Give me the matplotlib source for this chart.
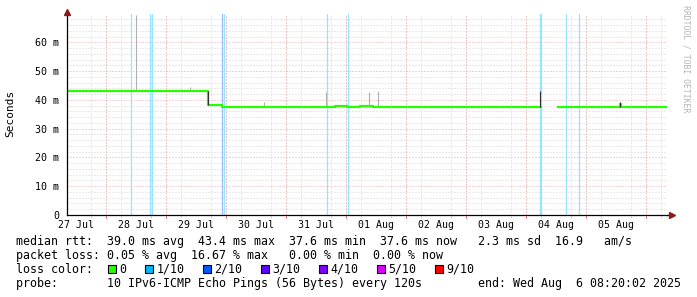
import matplotlib
matplotlib.use('Agg')
import matplotlib.pyplot as plt
import matplotlib.dates as mdates
import numpy as np
import pandas as pd
from matplotlib.patches import Rectangle
from matplotlib.colors import to_rgb

# ---------------- data ----------------
start_time = '2025-07-27 08:20:02'
span_hours = 240

# median rtt (ms), step series, hours since start (NaN = no data)
median_hours = [0.0, 56.4, 62.0, 107.2, 111.8, 117.2, 122.4, 189.6, 196.4, 221.0, 221.6, 239.4]
median_ms = [43.2, 38.3, 37.6, 38.0, 37.6, 37.8, 37.6, np.nan, 37.6, 38.6, 37.6, 37.6]

# dark vertical transitions of the median
jump_hours = [56.4, 189.4, 221.2]
jump_low = [38.3, 37.6, 37.6]
jump_high = [43.2, 43.0, 39.4]

# smoke (spread of individual pings)
smoke_hours = [27.5, 49.2, 78.8, 103.7, 120.9, 124.5]
smoke_low = [43.2, 43.2, 37.6, 37.6, 37.6, 37.6]
smoke_high = [69.5, 44.6, 39.3, 42.6, 42.6, 43.1]

# packet-loss background markers (loss level index)
loss_hours = [25.6, 33.3, 33.8, 61.9, 62.7, 103.8, 112.5, 189.2, 189.7, 199.7, 204.8]
loss_level = [1, 1, 1, 2, 1, 1, 1, 1, 1, 1, 1]

loss_labels = ['0', '1/10', '2/10', '3/10', '4/10', '5/10', '9/10']
loss_colors = ['#26ff00', '#00b8ff', '#0059ff', '#5e00ff', '#7e00ff', '#dd00ff', '#ff0000']

y_ticks = [0, 10, 20, 30, 40, 50, 60]
y_tick_labels = ['0', '10 m', '20 m', '30 m', '40 m', '50 m', '60 m']

legend_lines = [
    'median rtt:  39.0 ms avg  43.4 ms max  37.6 ms min  37.6 ms now   2.3 ms sd  16.9   am/s',
    'packet loss: 0.05 % avg  16.67 % max   0.00 % min  0.00 % now',
    'loss color:',
    'probe:       10 IPv6-ICMP Echo Pings (56 Bytes) every 120s        end: Wed Aug  6 08:20:02 2025',
]
watermark = 'RRDTOOL / TOBI OETIKER'
y_label = 'Seconds'

# ---------------- figure ----------------
W, H = 697, 297
fig = plt.figure(figsize=(W / 100, H / 100), dpi=100)
fig.patch.set_facecolor('white')
MONO = 'DejaVu Sans Mono'

ax_l, ax_r, ax_b, ax_t = 67, 667, 215, 13.5
ax = fig.add_axes([ax_l / W, (H - ax_b) / H, (ax_r - ax_l) / W, (ax_b - ax_t) / H])
ax.set_facecolor('white')

t0 = pd.Timestamp(start_time)
def to_time(hours):
    return t0 + pd.to_timedelta(np.asarray(hours, dtype=float), unit='h')

t_end = t0 + pd.Timedelta(hours=span_hours)
ax.set_xlim(t0, t_end)
ax.set_ylim(0, 70)

# grid
grid_kw = dict(linestyle=(0, (1, 2)), linewidth=0.72)
ax.set_yticks(y_ticks)
ax.set_yticks(np.arange(0, 70, 2), minor=True)
ax.xaxis.set_major_locator(mdates.HourLocator(byhour=[12]))
ax.xaxis.set_major_formatter(mdates.DateFormatter('%d %b'))
ax.xaxis.set_minor_locator(mdates.HourLocator(byhour=[0, 6, 12, 18]))
ax.grid(True, which='minor', color='#d4d4d4', **grid_kw)
ax.grid(False, which='major', axis='x')
ax.grid(True, which='major', axis='y', color='#e8a8a8', **grid_kw)
midnights = pd.date_range(t0.normalize() + pd.Timedelta(days=1), t_end, freq='D')
for m in midnights:
    ax.axvline(m, color='#e8a8a8', zorder=0.6, **grid_kw)
    ax.plot([m, m], [0, -0.9], color='#e08080', lw=0.72, clip_on=False, zorder=3)
ax.set_axisbelow(True)

ax.set_yticklabels(y_tick_labels, fontfamily=MONO, fontsize=7.2)
for lab in ax.get_xticklabels():
    lab.set_fontfamily(MONO)
    lab.set_fontsize(7.1)
ax.tick_params(axis='y', which='both', length=0, pad=5.5)
ax.tick_params(axis='x', which='major', length=0, pad=3.6, labelsize=7.1)
ax.tick_params(axis='x', which='minor', length=2, color='#d0d0d0')

# loss background
for h, lv in zip(loss_hours, loss_level):
    c = np.array(to_rgb(loss_colors[lv]))
    pale = 1 - 0.4 * (1 - c)
    ax.axvline(to_time([h])[0], color=pale, lw=0.9, zorder=1)

# smoke
ax.vlines(to_time(smoke_hours), smoke_low, smoke_high, color='#b0b0b0', lw=0.8, zorder=2)

# median line
ax.step(to_time(median_hours), median_ms, where='post', color=loss_colors[0], lw=1.6, zorder=3)
ax.vlines(to_time(jump_hours), jump_low, jump_high, color='#303030', lw=0.8, zorder=4)

# spines and arrows
for s in ['top', 'right']:
    ax.spines[s].set_visible(False)
for s in ['left', 'bottom']:
    ax.spines[s].set_color('black')
    ax.spines[s].set_linewidth(0.9)
    ax.spines[s].set_zorder(5)
ax.plot([1.0, 1.008], [0, 0], transform=ax.transAxes, color='black', lw=0.9, clip_on=False, zorder=5)
ax.plot([1.009], [0], transform=ax.transAxes, marker='>', color='#8b1a1a', ms=4, clip_on=False, zorder=6)
ax.plot([0], [1.005], transform=ax.transAxes, marker='^', color='#8b1a1a', ms=4, clip_on=False, zorder=6)

# y label and watermark
fig.text(10 / W, (H - 113) / H, y_label, rotation=90, ha='center', va='center',
         fontfamily=MONO, fontsize=8)
fig.text(686 / W, (H - 59) / H, watermark, rotation=270, ha='center', va='center',
         fontfamily=MONO, fontsize=5.9, color='#b4b4b4')

# legend text
baselines = [245, 259, 273, 287]
for line, yb in zip(legend_lines, baselines):
    fig.text(16 / W, (H - yb) / H, line, ha='left', va='baseline', fontfamily=MONO, fontsize=8.4)

char_w = 7.02
bx = 107.8
for lab, col in zip(loss_labels, loss_colors):
    fig.patches.append(Rectangle((bx / W, (H - 272.7) / H), 7.7 / W, 8.0 / H,
                                 transform=fig.transFigure, facecolor=col,
                                 edgecolor='black', linewidth=0.8, figure=fig))
    fig.text((bx + 11.5) / W, (H - 273) / H, lab, ha='left', va='baseline',
             fontfamily=MONO, fontsize=8.4)
    bx += 11.5 + len(lab) * char_w + 18.5

fig.savefig('out.png', dpi=100, facecolor='white')
